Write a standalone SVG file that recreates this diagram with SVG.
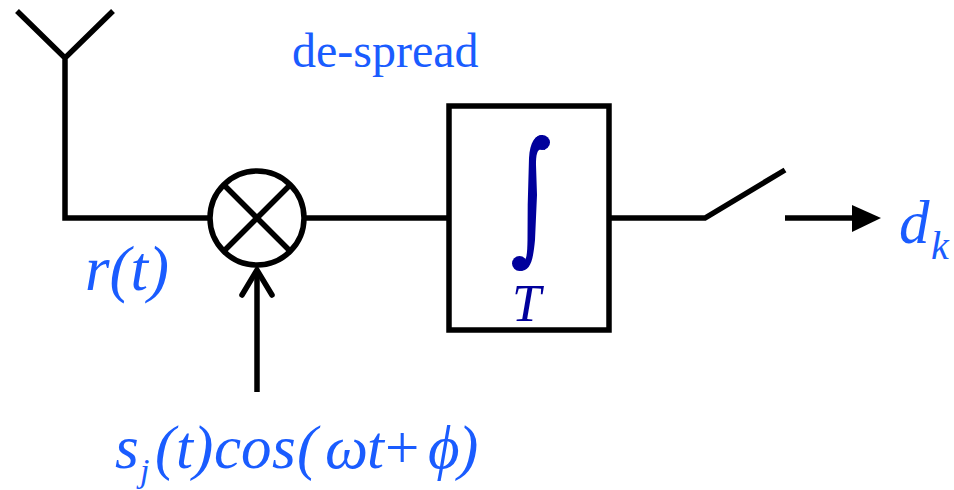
<svg xmlns="http://www.w3.org/2000/svg" width="954" height="490" viewBox="0 0 954 490">
<style>
.l{fill:none;stroke:#000;stroke-width:5.5}
.t{font-family:"Liberation Serif",serif;fill:#1a5cff}
.i{font-style:italic}
.b{font-size:61px}
.s{font-size:40px}
.n{font-family:"Liberation Serif",serif;fill:#00009c}
</style>
<rect width="954" height="490" fill="#fff"/>
<g id="connectors">
<path class="l" d="M17 11L65 58L113 11M65 58V218H208"/>
<path class="l" d="M306 218H448"/>
<path class="l" d="M610 218H705L785 170"/>
<path class="l" d="M257 392V270"/>
<path class="l" stroke-linecap="round" d="M242 295L257 270L272 295"/>
<path class="l" d="M785 218H855"/>
<path d="M852 205L881 218L852 232Z" fill="#000"/>
</g>
<g id="mixer">
<circle class="l" cx="257" cy="218" r="47"/>
<path class="l" d="M224 185L290 251M290 185L224 251"/>
</g>
<g id="integrator">
<rect class="l" x="449" y="106" width="160" height="224"/>
<ellipse cx="542" cy="142.500" rx="8" ry="7.500" fill="#00009c"/>
<circle cx="519.500" cy="263.500" r="7.500" fill="#00009c"/>
<path d="M543 135C535 135 530 142 529 158L527.700 205L527.500 240C527.300 250 527 257 525 260L520 271C530 271 533 262 535 240L537 195L536 165C536 155 537 150 541 149L545 150Z" fill="#00009c"/>
<text class="n i" x="512" y="321" font-size="52">T</text>
</g>
<g id="labels">
<text class="t" x="292" y="67" font-size="48">de-spread</text>
<text class="t i" x="85" y="290" font-size="63">r(t)</text>
<text class="t i b" x="899" y="243">d</text>
<text class="t i s" x="931" y="259">k</text>
<text class="t i b" x="115" y="468">s</text>
<text class="t i" x="140" y="482" font-size="34">j</text>
<text class="t i b" x="155 176 193 214 241 272 297" y="468">(t)cos(</text>
<text class="t i b" x="325" y="468">ω</text>
<text class="t i b" x="367" y="468">t</text>
<text class="t b" x="385" y="468">+</text>
<text class="t i b" x="428" y="468">ϕ</text>
<text class="t i b" x="458" y="468">)</text>
</g>
</svg>
